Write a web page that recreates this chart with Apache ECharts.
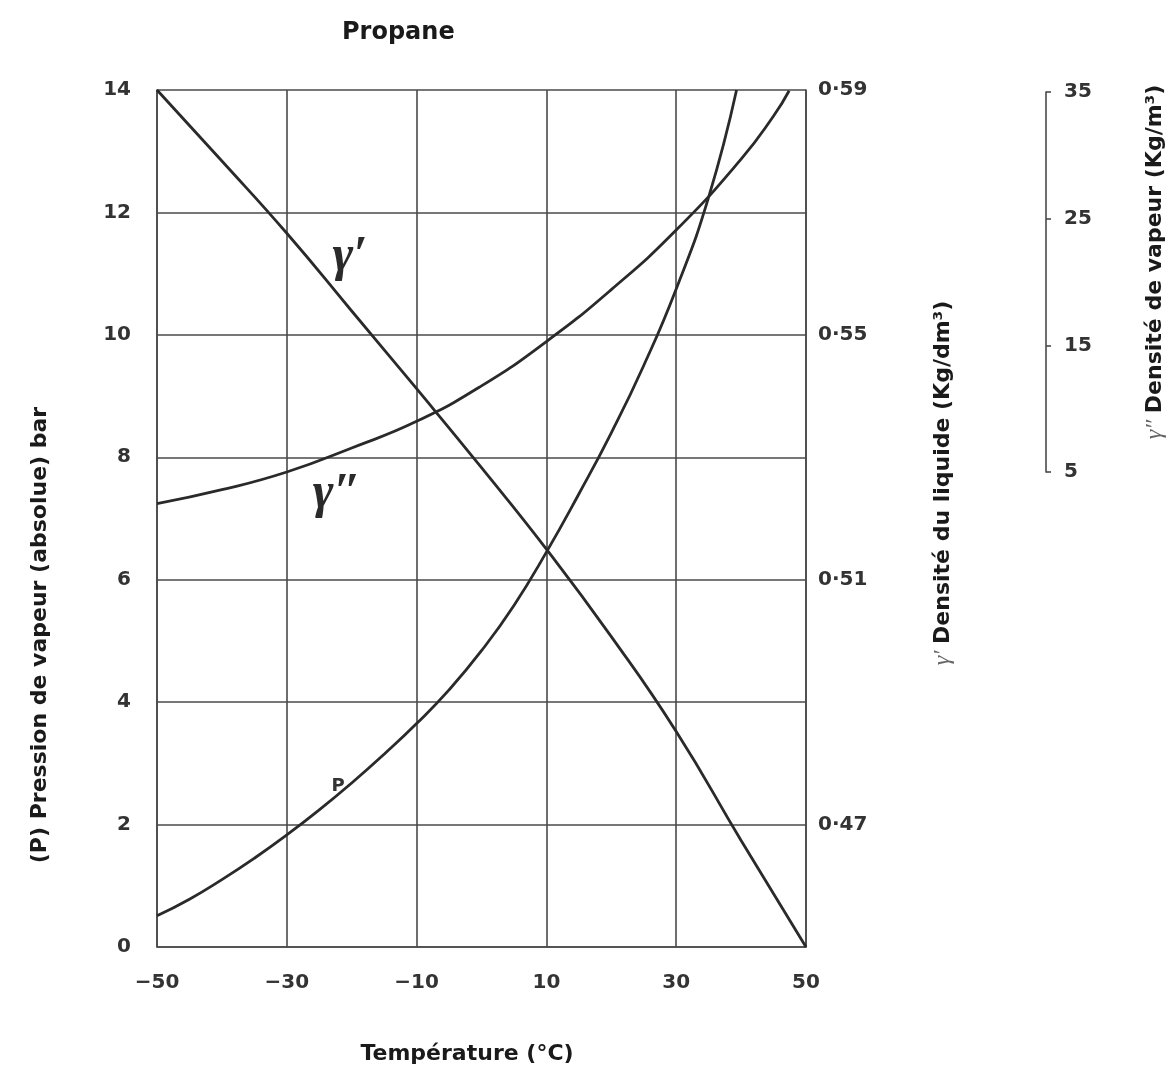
<!DOCTYPE html>
<html>
<head>
<meta charset="utf-8">
<script src="https://cdn.jsdelivr.net/npm/echarts@6/dist/echarts.min.js"></script>
<style>
  html, body { margin: 0; padding: 0; background: #ffffff; }
  #chart { width: 1173px; height: 1070px; }
</style>
</head>
<body>
<div id="chart"></div>
<script>
// ---- Data ----
const temperatureTicks = [-50, -30, -10, 10, 30, 50];
const pressureTicks = [0, 2, 4, 6, 8, 10, 12, 14];
const liquidDensityTicks = [0.47, 0.51, 0.55, 0.59];
const vapourDensityTicks = [5, 15, 25, 35];

// P : vapour pressure (bar, absolute)
const pressureTemps  = [-50, -45, -40, -35, -30, -25, -20, -15, -10, -5, 0, 5, 10, 15, 20, 25, 30, 35, 39.3];
const pressureValues = [0.51, 0.78, 1.1, 1.45, 1.83, 2.24, 2.68, 3.15, 3.65, 4.2, 4.84, 5.58, 6.45, 7.4, 8.4, 9.5, 10.75, 12.25, 14.0];

// γ' : liquid density (kg/dm³)
const liquidTemps  = [-50, -40, -30, -20, -10, 0, 10, 20, 30, 40, 50];
const liquidValues = [0.590, 0.5784, 0.5666, 0.5539, 0.5412, 0.5283, 0.515, 0.5007, 0.4852, 0.4674, 0.450];

// γ'' : vapour density (kg/m³)
const vapourTemps  = [-50, -40, -30, -20, -10, 0, 10, 20, 30, 40, 45, 47.4];
const vapourValues = [2.5, 3.6, 5.0, 6.9, 9.0, 11.8, 15.3, 19.4, 24.1, 29.7, 33.1, 35.1];

// ---- Layout ----
const FONT = 'DejaVu Sans';
const mainGrid = { left: 157, top: 90, width: 649, height: 857 };
const vapGrid  = { left: 1003, top: 92, width: 43, height: 380 };
// hidden vapour axis in main grid aligned with the visible vapour scale
const pxPerKg = vapGrid.height / (vapourDensityTicks[3] - vapourDensityTicks[0]);
const vapMax = 35 + (vapGrid.top - mainGrid.top) / pxPerKg;
const vapMin = vapMax - mainGrid.height / pxPerKg;

const pairs = (xs, ys) => xs.map((x, i) => [x, ys[i]]);
const lineCol = '#2a2a2a';
const gridCol = '#4a4a4a';
const labelCol = '#333333';

const chart = echarts.init(document.getElementById('chart'));
chart.setOption({
  backgroundColor: '#ffffff',
  animation: false,
  title: {
    text: 'Propane', left: 337, top: 16,
    textStyle: { fontFamily: FONT, fontWeight: 'bold', fontSize: 24, color: '#1a1a1a' }
  },
  grid: [
    { left: mainGrid.left, top: mainGrid.top, width: mainGrid.width, height: mainGrid.height },
    { left: vapGrid.left, top: vapGrid.top, width: vapGrid.width, height: vapGrid.height }
  ],
  xAxis: [
    {
      type: 'value', gridIndex: 0, min: -50, max: 50,
      axisLine: { show: true, onZero: false, lineStyle: { color: gridCol, width: 1.6 } },
      axisTick: { show: false, customValues: temperatureTicks },
      splitLine: { show: true, lineStyle: { color: gridCol, width: 1.6 } },
      axisLabel: {
        customValues: temperatureTicks, margin: 26,
        fontFamily: FONT, fontWeight: 'bold', fontSize: 20, color: labelCol,
        formatter: v => (v < 0 ? '\u2212' + Math.abs(v) : String(v))
      }
    },
    { type: 'value', gridIndex: 1, min: 0, max: 1, show: false }
  ],
  yAxis: [
    {
      type: 'value', gridIndex: 0, position: 'left', min: 0, max: 14, interval: 2,
      axisLine: { show: true, onZero: false, lineStyle: { color: gridCol, width: 1.6 } },
      axisTick: { show: false },
      splitLine: { show: true, lineStyle: { color: gridCol, width: 1.6 } },
      axisLabel: { margin: 26, fontFamily: FONT, fontWeight: 'bold', fontSize: 20, color: labelCol }
    },
    {
      type: 'value', gridIndex: 0, position: 'right', min: 0.45, max: 0.59,
      axisLine: { show: true, onZero: false, lineStyle: { color: gridCol, width: 1.6 } },
      axisTick: { show: false, customValues: liquidDensityTicks },
      splitLine: { show: false },
      axisLabel: {
        customValues: liquidDensityTicks, margin: 12,
        fontFamily: FONT, fontWeight: 'bold', fontSize: 20, color: labelCol,
        formatter: v => v.toFixed(2).replace('.', '\u00B7')
      }
    },
    {
      type: 'value', gridIndex: 0, position: 'right', min: vapMin, max: vapMax, show: false,
      splitLine: { show: false }
    },
    {
      type: 'value', gridIndex: 1, position: 'right', min: 5, max: 35,
      axisLine: { show: true, onZero: false, lineStyle: { color: gridCol, width: 1.6 } },
      axisTick: { show: true, customValues: vapourDensityTicks, length: 5, lineStyle: { color: gridCol, width: 1.6 } },
      splitLine: { show: false },
      axisLabel: {
        customValues: vapourDensityTicks, margin: 18,
        fontFamily: FONT, fontWeight: 'bold', fontSize: 20, color: labelCol
      }
    }
  ],
  series: [
    {
      name: 'P', type: 'line', xAxisIndex: 0, yAxisIndex: 0, smooth: 0.5,
      symbol: 'none', data: pairs(pressureTemps, pressureValues),
      lineStyle: { color: lineCol, width: 2.8 }
    },
    {
      name: "γ'", type: 'line', xAxisIndex: 0, yAxisIndex: 1, smooth: 0.5,
      symbol: 'none', data: pairs(liquidTemps, liquidValues),
      lineStyle: { color: lineCol, width: 2.8 }
    },
    {
      name: "γ''", type: 'line', xAxisIndex: 0, yAxisIndex: 2, smooth: 0.5,
      symbol: 'none', data: pairs(vapourTemps, vapourValues),
      lineStyle: { color: lineCol, width: 2.8 }
    }
  ],
  graphic: [
    {
      type: 'text', x: 40, y: 635, rotation: Math.PI / 2,
      style: { text: '(P) Pression de vapeur (absolue) bar', fontFamily: FONT, fontWeight: 'bold', fontSize: 22,
               fill: '#1a1a1a', align: 'center', verticalAlign: 'middle' }
    },
    {
      type: 'text', x: 467, y: 1054,
      style: { text: 'Température (°C)', fontFamily: FONT, fontWeight: 'bold', fontSize: 22,
               fill: '#1a1a1a', align: 'center', verticalAlign: 'middle' }
    },
    {
      type: 'text', x: 943, y: 483, rotation: Math.PI / 2,
      style: {
        text: '{g|\u03B3\u2032}  {t|Densité du liquide (Kg/dm³)}',
        align: 'center', verticalAlign: 'middle',
        rich: {
          g: { fontFamily: 'Liberation Serif', fontStyle: 'italic', fontSize: 24, fill: '#666666' },
          t: { fontFamily: FONT, fontWeight: 'bold', fontSize: 22, fill: '#1a1a1a' }
        }
      }
    },
    {
      type: 'text', x: 1155, y: 262, rotation: Math.PI / 2,
      style: {
        text: '{g|\u03B3\u2033}  {t|Densité de vapeur (Kg/m³)}',
        align: 'center', verticalAlign: 'middle',
        rich: {
          g: { fontFamily: 'Liberation Serif', fontStyle: 'italic', fontSize: 24, fill: '#666666' },
          t: { fontFamily: FONT, fontWeight: 'bold', fontSize: 22, fill: '#1a1a1a' }
        }
      }
    },
    {
      type: 'text', x: 350, y: 257,
      style: { text: '\u03B3\u2032', fontFamily: 'Liberation Serif', fontStyle: 'italic', fontWeight: 'bold',
               fontSize: 50, fill: '#2a2a2a', align: 'center', verticalAlign: 'middle' }
    },
    {
      type: 'text', x: 337, y: 494,
      style: { text: '\u03B3\u2033', fontFamily: 'Liberation Serif', fontStyle: 'italic', fontWeight: 'bold',
               fontSize: 50, fill: '#2a2a2a', align: 'center', verticalAlign: 'middle' }
    },
    {
      type: 'text', x: 338, y: 786,
      style: { text: 'P', fontFamily: FONT, fontWeight: 'bold', fontSize: 18, fill: '#333333',
               align: 'center', verticalAlign: 'middle' }
    }
  ]
});
</script>
</body>
</html>
